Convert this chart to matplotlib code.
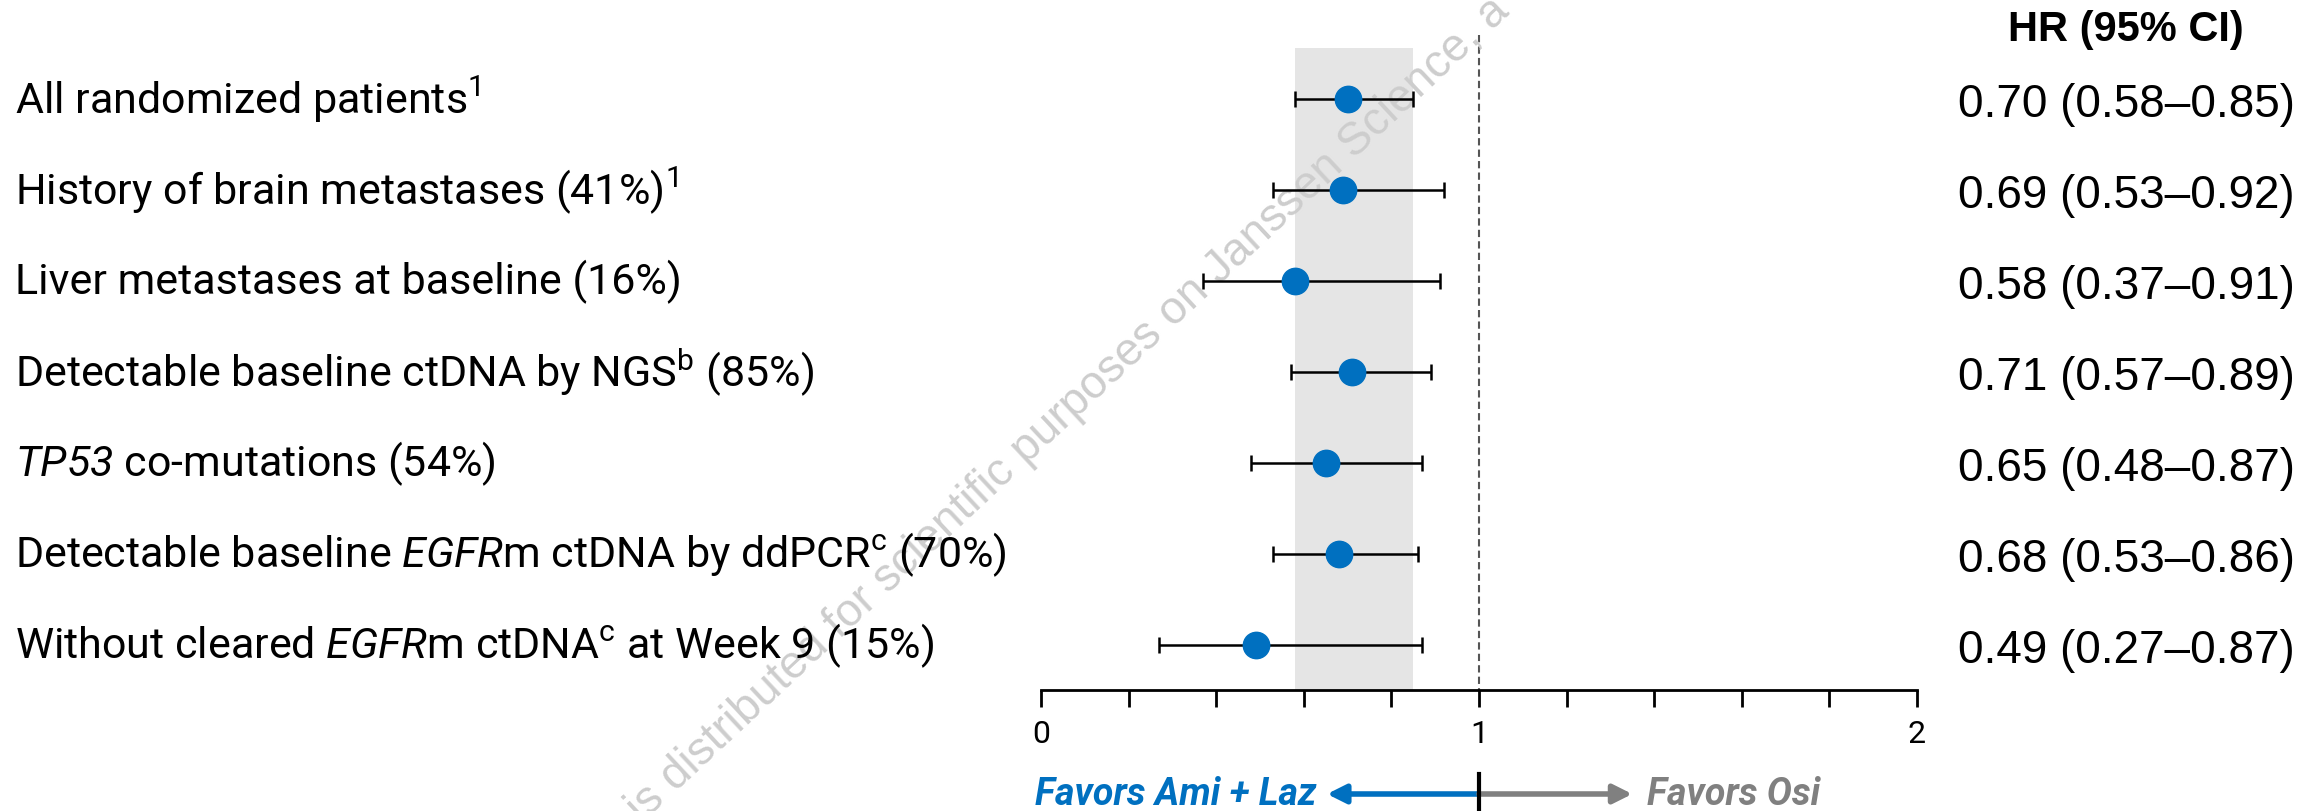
import matplotlib
matplotlib.use("Agg")
import matplotlib.pyplot as plt
import matplotlib.transforms as mtransforms
from matplotlib.ticker import MultipleLocator
from matplotlib.patches import Rectangle
from matplotlib.lines import Line2D

# subgroup labels (mathtext for italics / superscripts)
labels = [
    r"All randomized patients$^{\mathrm{1}}$",
    r"History of brain metastases (41%)$^{\mathrm{1}}$",
    r"Liver metastases at baseline (16%)",
    r"Detectable baseline ctDNA by NGS$^{\mathrm{b}}$ (85%)",
    r"$\mathsf{TP53}$ co-mutations (54%)",
    r"Detectable baseline $\mathsf{EGFR}$m ctDNA by ddPCR$^{\mathrm{c}}$ (70%)",
    r"Without cleared $\mathsf{EGFR}$m ctDNA$^{\mathrm{c}}$ at Week 9 (15%)",
]
hr = [0.70, 0.69, 0.58, 0.71, 0.65, 0.68, 0.49]
ci_lo = [0.58, 0.53, 0.37, 0.57, 0.48, 0.53, 0.27]
ci_hi = [0.85, 0.92, 0.91, 0.89, 0.87, 0.86, 0.87]
hr_text = ["0.70 (0.58\u20130.85)", "0.69 (0.53\u20130.92)", "0.58 (0.37\u20130.91)",
           "0.71 (0.57\u20130.89)", "0.65 (0.48\u20130.87)", "0.68 (0.53\u20130.86)",
           "0.49 (0.27\u20130.87)"]

BLUE = "#0070C0"
GREY = "#808080"

plt.rcParams['font.family'] = ['Roboto', 'DejaVu Sans']
plt.rcParams['mathtext.fontset'] = 'custom'
plt.rcParams['mathtext.rm'] = 'Roboto'
plt.rcParams['mathtext.it'] = 'Roboto:italic'
plt.rcParams['mathtext.sf'] = 'Roboto:italic'
plt.rcParams['mathtext.bf'] = 'Roboto:bold'

fig = plt.figure(figsize=(23.2, 8.12), dpi=100)
ax = fig.add_axes([0.4487, 0.1490, 0.3776, 0.851])
ylo, yhi = 6.495, -1.099
ax.set_xlim(0, 2)
ax.set_ylim(ylo, yhi)

rows = list(range(len(labels)))

# shaded band = overall CI
ax.add_patch(Rectangle((ci_lo[0], -0.56), ci_hi[0] - ci_lo[0], ylo + 0.56,
                       facecolor="#E5E5E5", edgecolor="none", zorder=0))
ax.vlines(1, -0.7, ylo, colors="#555555", linestyles=(0, (3.5, 2)), lw=1.5, zorder=1)

xerr = [[h - l for h, l in zip(hr, ci_lo)], [u - h for h, u in zip(hr, ci_hi)]]
ax.errorbar(hr, rows, xerr=xerr, fmt='o', ms=19, mfc=BLUE, mec=BLUE,
            ecolor="black", elinewidth=1.8, capsize=6, capthick=1.8, zorder=3)

for s in ['top', 'right', 'left']:
    ax.spines[s].set_visible(False)
ax.spines['bottom'].set_linewidth(2)
ax.set_yticks([])
ax.set_xticks([0, 1, 2])
ax.xaxis.set_minor_locator(MultipleLocator(0.2))
ax.tick_params(axis='x', which='both', length=12, width=2, direction='out')
ax.tick_params(axis='x', which='major', labelsize=23, pad=9)

# left labels and right HR column
lab_tr = mtransforms.blended_transform_factory(fig.transFigure, ax.transData)
for y, lab, t in zip(rows, labels, hr_text):
    ax.text(15 / 2320, y, lab, transform=lab_tr, ha='left', va='center',
            fontsize=31, clip_on=False)
    ax.text(2126 / 2320, y + 0.05, t, transform=lab_tr, ha='center', va='center',
            fontsize=33, family='Liberation Sans', clip_on=False)
fig.text(2126 / 2320, 1 - 30 / 812, "HR (95% CI)", ha='center', va='center',
         fontsize=30, fontweight='bold', family='Liberation Sans')

# favours arrows under the axis
arr_tr = mtransforms.blended_transform_factory(ax.transData, fig.transFigure)
ay = 1 - 795 / 812
ax.annotate('', xy=(0.653, ay), xytext=(1, ay), xycoords=arr_tr, textcoords=arr_tr,
            annotation_clip=False,
            arrowprops=dict(arrowstyle='-|>', color=BLUE, lw=4, mutation_scale=28,
                            shrinkA=0, shrinkB=0))
ax.annotate('', xy=(1.35, ay), xytext=(1, ay), xycoords=arr_tr, textcoords=arr_tr,
            annotation_clip=False,
            arrowprops=dict(arrowstyle='-|>', color=GREY, lw=4, mutation_scale=28,
                            shrinkA=0, shrinkB=0))
fig.add_artist(Line2D([1, 1], [0, 1 - 775 / 812], transform=arr_tr, color='black', lw=3))
ax.text(0.63, ay, "Favors Ami + Laz", transform=arr_tr, ha='right', va='center',
        fontsize=27, fontweight='bold', style='italic', color=BLUE, clip_on=False)
ax.text(1.384, ay, "Favors Osi", transform=arr_tr, ha='left', va='center',
        fontsize=27, fontweight='bold', style='italic', color=GREY, clip_on=False)

# watermark
ax.text(1068 / 2320, 1 - 410 / 812,
        "is distributed for scientific purposes on Janssen Science, a",
        transform=fig.transFigure, rotation=43, rotation_mode='anchor',
        ha='center', va='center', fontsize=33, family='Liberation Sans',
        color="#CDCDCD", zorder=2, clip_on=False)

fig.savefig("out.png", dpi=100)
